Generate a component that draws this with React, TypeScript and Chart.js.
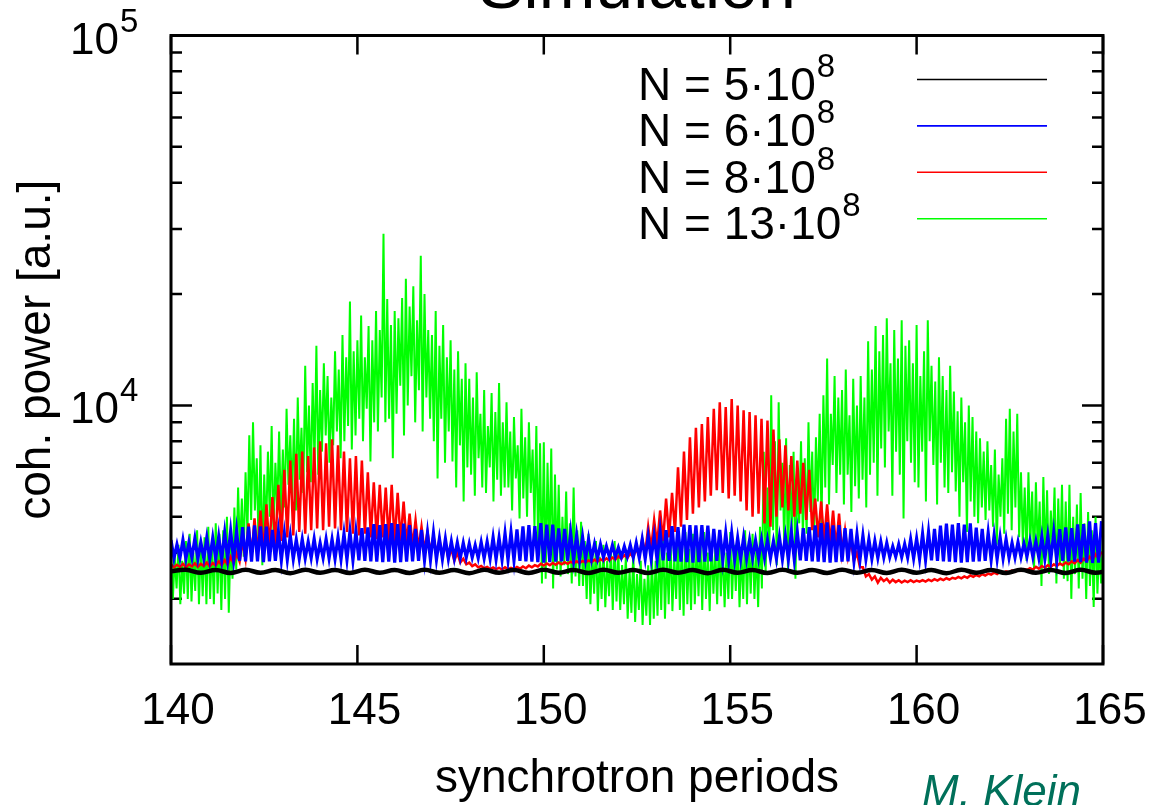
import React, { useEffect, useRef } from "react";
import { Chart, registerables } from "chart.js";

Chart.register(...registerables);

const FONT = '"Liberation Sans", Arial, Helvetica, sans-serif';

// ---- axes ----
const X_START = 140;
const X_END = 165;
const X_TICKS = [140, 145, 150, 155, 160, 165];
const Y_MIN = 2000;
const Y_MAX = 100000;
const Y_MAJOR_TICKS = [10000, 100000];
const Y_MAJOR_BASE = ["10", "10"];
const Y_MAJOR_EXP = ["4", "5"];
const Y_MINOR_TICKS = [3000, 4000, 5000, 6000, 7000, 8000, 9000, 20000, 30000, 40000, 50000, 60000, 70000, 80000, 90000];

// ---- series ----
const SERIES_LABELS = ["N = 5·10", "N = 6·10", "N = 8·10", "N = 13·10"];
const SERIES_EXP = "8";
const SERIES_COLORS = ["#000000", "#0000ff", "#ff0000", "#00ff00"];

// N = 5e8 : sampled every 0.4 periods
const BLACK_STEP = 0.4;
const BLACK = [
  3560, 3595, 3530, 3590, 3525, 3595, 3530, 3590, 3520, 3595, 3530, 3590, 3525, 3595, 3530, 3590,
  3525, 3595, 3530, 3590, 3520, 3595, 3530, 3590, 3525, 3595, 3530, 3590, 3525, 3595, 3530, 3590,
  3525, 3595, 3530, 3590, 3520, 3595, 3530, 3590, 3525, 3595, 3530, 3590, 3525, 3595, 3530, 3590,
  3525, 3595, 3530, 3590, 3520, 3595, 3530, 3590, 3525, 3595, 3530, 3590, 3525, 3595, 3530, 3590,
];

// N = 6e8 : maxima and minima of the fast oscillation, every 0.08 periods alternately
const BLUE_STEP = 0.08;
const BLUE_PEAKS = [
  4330, 4210, 4330, 4260, 4370, 4270, 4390, 4390, 4420, 4530,
  4580, 4580, 4690, 4700, 4740, 4710, 4700, 4610, 4560, 4510,
  4450, 4340, 4350, 4280, 4360, 4250, 4350, 4350, 4400, 4500,
  4560, 4560, 4660, 4680, 4780, 4750, 4780, 4810, 4780, 4790,
  4750, 4640, 4610, 4520, 4520, 4370, 4360, 4290, 4260, 4250,
  4230, 4190, 4270, 4280, 4400, 4390, 4510, 4540, 4620, 4710,
  4750, 4720, 4810, 4760, 4760, 4650, 4640, 4530, 4460, 4410,
  4350, 4220, 4210, 4160, 4190, 4130, 4160, 4190, 4250, 4350,
  4430, 4440, 4570, 4600, 4720, 4690, 4760, 4750, 4740, 4750,
  4730, 4640, 4610, 4520, 4520, 4390, 4400, 4330, 4320, 4330,
  4330, 4300, 4410, 4430, 4560, 4550, 4660, 4690, 4740, 4810,
  4830, 4740, 4750, 4660, 4640, 4490, 4450, 4350, 4300, 4280,
  4250, 4160, 4210, 4220, 4350, 4370, 4500, 4550, 4640, 4730,
  4790, 4760, 4810, 4760, 4800, 4670, 4640, 4530, 4460, 4410,
  4350, 4250, 4270, 4230, 4300, 4290, 4420, 4450, 4540, 4630,
  4680, 4660, 4770, 4780, 4860, 4810, 4870,
];
const BLUE_TROUGHS = [
  3860, 3870, 3850, 3880, 3850, 3860, 3840, 3850, 3830, 3840,
  3820, 3800, 3790, 3780, 3790, 3770, 3790, 3800, 3810, 3830,
  3840, 3850, 3860, 3870, 3850, 3870, 3860, 3850, 3840, 3830,
  3820, 3810, 3800, 3790, 3780, 3770, 3780, 3760, 3770, 3780,
  3790, 3800, 3810, 3820, 3830, 3840, 3850, 3860, 3870, 3880,
  3880, 3870, 3860, 3850, 3840, 3830, 3820, 3810, 3800, 3790,
  3780, 3770, 3760, 3770, 3780, 3790, 3800, 3810, 3830, 3840,
  3850, 3860, 3880, 3890, 3900, 3890, 3900, 3880, 3870, 3850,
  3840, 3820, 3810, 3800, 3790, 3780, 3770, 3760, 3770, 3780,
  3790, 3800, 3810, 3820, 3830, 3840, 3850, 3860, 3860, 3870,
  3860, 3850, 3840, 3830, 3820, 3810, 3800, 3790, 3780, 3770,
  3760, 3770, 3780, 3790, 3800, 3820, 3840, 3850, 3870, 3880,
  3890, 3900, 3890, 3880, 3860, 3840, 3820, 3810, 3800, 3790,
  3780, 3770, 3760, 3770, 3780, 3790, 3800, 3820, 3840, 3860,
  3870, 3880, 3890, 3900, 3890, 3870, 3850, 3830, 3810, 3800,
  3790, 3780, 3770, 3760, 3750, 3760,
];

// N = 8e8
const RED_STEP = 0.08;
const RED_PEAKS = [
  3720, 3710, 3730, 3720, 3740, 3730, 3760, 3750, 3790, 3820,
  3900, 3980, 4300, 4800, 4950, 5200, 5400, 5650, 6100, 6700,
  7100, 7400, 7500, 7300, 7700, 8000, 7900, 8100, 7800, 7500,
  7200, 7300, 7100, 6600, 6200, 6100, 6000, 6100, 5800, 5500,
  5100, 4900, 4700, 4550, 4450, 4350, 4250, 4100, 4000, 3850,
  3760, 3720, 3680, 3660, 3650, 3640, 3650, 3640, 3660, 3670,
  3690, 3700, 3730, 3740, 3750, 3760, 3770, 3780, 3790, 3800,
  3810, 3830, 3840, 3860, 3880, 3910, 3940, 3980, 4100, 4350,
  4700, 4900, 5200, 5600, 5800, 6800, 7500, 8200, 8700, 8900,
  9300, 9800, 10200, 9900, 10400, 10000, 9700, 9600, 9400, 9200,
  9100, 8600, 8100, 7800, 7300, 7100, 7000, 6700, 5600, 5500,
  5400, 5200, 5100, 4600, 4300, 4000, 3650, 3500, 3450, 3420,
  3400, 3380, 3370, 3360, 3370, 3360, 3370, 3380, 3390, 3400,
  3410, 3420, 3440, 3450, 3470, 3480, 3500, 3510, 3530, 3550,
  3560, 3580, 3600, 3610, 3630, 3660, 3680, 3700, 3720, 3740,
  3760, 3790, 3820, 3850, 3900, 3960, 4020,
];
const RED_TROUGHS = [
  3650, 3660, 3650, 3670, 3660, 3680, 3670, 3690, 3700, 3710,
  3740, 3780, 3850, 3900, 3950, 4000, 4100, 4200, 4300, 4400,
  4450, 4550, 4500, 4600, 4650, 4600, 4700, 4650, 4600, 4550,
  4500, 4450, 4500, 4400, 4350, 4400, 4300, 4250, 4300, 4200,
  4150, 4100, 4050, 4000, 3950, 3900, 3850, 3800, 3760, 3720,
  3680, 3650, 3630, 3610, 3610, 3600, 3610, 3610, 3620, 3630,
  3650, 3670, 3690, 3700, 3710, 3720, 3730, 3740, 3750, 3760,
  3770, 3780, 3800, 3810, 3830, 3850, 3870, 3890, 3920, 3980,
  4100, 4200, 4300, 4400, 4550, 4700, 4900, 5100, 5300, 5500,
  5700, 5900, 5800, 5600, 5700, 5500, 5200, 5000, 5100, 4800,
  4700, 5000, 5300, 5200, 5000, 5100, 4900, 4600, 4400, 4300,
  4200, 4100, 4000, 3900, 3800, 3650, 3450, 3380, 3320, 3350,
  3320, 3330, 3320, 3330, 3330, 3340, 3340, 3350, 3360, 3370,
  3380, 3400, 3410, 3420, 3440, 3450, 3470, 3490, 3500, 3520,
  3540, 3550, 3570, 3590, 3600, 3620, 3640, 3660, 3680, 3700,
  3720, 3740, 3760, 3790, 3820, 3860,
];

// N = 13e8 : highs and lows every 0.05 periods alternately
const GREEN_STEP = 0.05;
const GREEN_HIGHS = [
  4100, 3900, 4200, 3800, 4300, 4500, 4000, 4600, 4200, 4400,
  4700, 4300, 4800, 4500, 4600, 5000, 4400, 5300, 6000, 5600,
  6600, 8300, 9000, 7200, 7800, 6500, 7500, 8800, 7000, 8500,
  7600, 9800, 8300, 9200, 10500, 8700, 12800, 10000, 11500, 14500,
  11000, 13000, 12000, 10500, 14000, 12500, 15500, 13500, 19100, 14000,
  15000, 17500, 13500, 16400, 15000, 18000, 16000, 29100, 19400, 16500,
  18000, 17200, 19500, 22000, 18500, 21000, 17000, 25400, 20000, 16000,
  15500, 18000, 14500, 16500, 13500, 15000, 12500, 14000, 11800, 13000,
  11800, 10500, 12300, 9500, 11000, 8800, 10800, 9600, 11500, 9000,
  10200, 8500, 9300, 7800, 9800, 8200, 9000, 7600, 8800, 7900,
  7950, 7000, 7650, 6500, 6100, 5000, 5850, 4800, 6000, 4600,
  4850, 4300, 4500, 4000, 4300, 3900, 4200, 3800, 4100, 4300,
  4000, 3700, 3900, 3600, 4000, 3500, 3800, 3400, 3700, 3900,
  3800, 4200, 4550, 4000, 4400, 3900, 4500, 4200, 4550, 4100,
  4500, 4200, 4400, 4550, 4000, 4300, 4100, 4450, 4200, 4000,
  4550, 4200, 4400, 4000, 4600, 4300, 4500, 4100, 4700, 7500,
  6000, 10650, 8000, 10200, 7000, 8150, 6900, 7500, 6200, 8000,
  7200, 9000, 7500, 8200, 9500, 10650, 13400, 9500, 12000, 10500,
  11000, 12500, 9400, 11800, 10000, 12000, 10500, 14900, 12500, 16400,
  14000, 15500, 17200, 13000, 16000, 13400, 17000, 14500, 15000, 13000,
  16500, 12000, 14000, 17000, 12800, 11600, 13500, 12000, 11000, 12800,
  10900, 9650, 10500, 9000, 10000, 9300, 8500, 8150, 7500, 8000,
  6900, 7600, 6500, 7200, 9200, 9800, 8500, 9500, 6600, 6000,
  6600, 5850, 6200, 5500, 6400, 5900, 5200, 6000, 5600, 6100,
  5500, 6100, 5000, 5400, 5800, 4800, 5150, 4600, 5000, 4200,
  4500,
];
const GREEN_LOWS = [
  3000, 3200, 2900, 3100, 3000, 2950, 3150, 2900, 3050, 2900,
  3000, 2900, 3100, 2800, 3000, 2750, 3400, 3600, 4000, 3900,
  4500, 4900, 5200, 4100, 3700, 4500, 5000, 4400, 5200, 5000,
  5300, 6100, 5600, 5200, 6300, 5800, 6600, 6200, 7000, 6500,
  7500, 8300, 7000, 7800, 8500, 7200, 8000, 8800, 7600, 8300,
  9200, 8000, 9800, 7050, 9000, 8500, 10500, 9000, 9200, 7200,
  9500, 11300, 8300, 10000, 12000, 9000, 11000, 8500, 10500, 9200,
  8000, 6350, 9200, 7000, 8500, 7050, 6000, 7800, 5500, 6800,
  6500, 5700, 7200, 6000, 5800, 6800, 5500, 6300, 5700, 6000,
  6000, 5200, 6350, 4950, 5600, 5000, 5800, 4700, 4000, 3300,
  3400, 3900, 3200, 3600, 3450, 3700, 3500, 3300, 3450, 3250,
  3250, 3000, 2900, 3100, 2780, 3000, 2850, 3050, 2800, 2950,
  2800, 2900, 2650, 2750, 2600, 2800, 2550, 2700, 2550, 2650,
  2700, 2800, 2650, 2900, 2780, 3000, 2800, 2700, 2900, 2800,
  2900, 3050, 2800, 3000, 2780, 3100, 2900, 3050, 2850, 3000,
  3000, 3150, 2850, 3000, 2900, 3100, 3000, 2850, 3200, 3500,
  4000, 4600, 3700, 5200, 4200, 3600, 4500, 3400, 4800, 4400,
  4500, 5150, 4300, 5500, 4800, 6000, 5400, 6900, 5800, 6500,
  5400, 6500, 5150, 6050, 5600, 6300, 5300, 6500, 7000, 5700,
  7650, 6800, 8500, 5700, 7500, 6500, 4950, 8000, 7000, 6200,
  6000, 7500, 5500, 8000, 6900, 5400, 7000, 6000, 5800, 6600,
  5850, 5000, 6200, 4550, 5500, 5000, 4800, 5300, 4900, 5200,
  4700, 4200, 5000, 4500, 5100, 4600, 5300, 4400, 4200, 3800,
  4200, 3600, 4000, 3250, 3800, 3500, 4100, 3300, 3700, 3400,
  3350, 3000, 3500, 3200, 3400, 3000, 3250, 2850, 3100, 3300,
];

function interleave(a: number[], b: number[]): number[] {
  const out: number[] = [];
  for (let i = 0; i < a.length; i++) {
    out.push(a[i]);
    if (i < b.length) out.push(b[i]);
  }
  return out;
}

function toPoints(values: number[], step: number) {
  return values.map((y, i) => ({ x: X_START + i * step, y }));
}

const decorPlugin = {
  id: "decor",
  beforeDatasetsDraw(chart: any) {
    const { ctx, chartArea } = chart;
    const { left, right, top, bottom } = chartArea;
    const xs = chart.scales.x;
    const ys = chart.scales.y;
    ctx.save();
    ctx.strokeStyle = "#000";
    ctx.lineWidth = 2.5;
    ctx.beginPath();
    for (const v of X_TICKS) {
      const px = xs.getPixelForValue(v);
      ctx.moveTo(px, bottom);
      ctx.lineTo(px, bottom - 19);
      ctx.moveTo(px, top);
      ctx.lineTo(px, top + 19);
    }
    for (const v of Y_MAJOR_TICKS) {
      const py = ys.getPixelForValue(v);
      ctx.moveTo(left, py);
      ctx.lineTo(left + 21, py);
      ctx.moveTo(right, py);
      ctx.lineTo(right - 21, py);
    }
    for (const v of Y_MINOR_TICKS) {
      const py = ys.getPixelForValue(v);
      ctx.moveTo(left, py);
      ctx.lineTo(left + 11, py);
      ctx.moveTo(right, py);
      ctx.lineTo(right - 11, py);
    }
    ctx.stroke();
    ctx.restore();
  },
  afterDatasetsDraw(chart: any) {
    const { ctx, chartArea } = chart;
    const { left, right, top, bottom } = chartArea;
    const ys = chart.scales.y;
    ctx.save();
    // frame
    ctx.strokeStyle = "#000";
    ctx.lineWidth = 3;
    ctx.strokeRect(left, top, right - left, bottom - top);

    // y tick labels 10^n
    ctx.fillStyle = "#000";
    ctx.textAlign = "left";
    ctx.textBaseline = "alphabetic";
    Y_MAJOR_TICKS.forEach((v, i) => {
      const py = ys.getPixelForValue(v);
      const base = py + 18;
      ctx.font = `44px ${FONT}`;
      const x0 = left - 101;
      ctx.fillText(Y_MAJOR_BASE[i], x0, base);
      const w = ctx.measureText(Y_MAJOR_BASE[i]).width;
      ctx.font = `33px ${FONT}`;
      ctx.fillText(Y_MAJOR_EXP[i], x0 + w + 1, base - 22);
    });

    // legend
    SERIES_LABELS.forEach((label, i) => {
      const by = 100 + i * 46.4;
      const ly = by - 20.5;
      ctx.fillStyle = "#000";
      ctx.font = `46px ${FONT}`;
      ctx.fillText(label, 638, by);
      const w = ctx.measureText(label).width;
      ctx.font = `33px ${FONT}`;
      ctx.fillText(SERIES_EXP, 638 + w + 1, by - 23);
      ctx.strokeStyle = SERIES_COLORS[i];
      ctx.lineWidth = 1.6;
      ctx.beginPath();
      ctx.moveTo(917, ly);
      ctx.lineTo(1047, ly);
      ctx.stroke();
    });

    // signature
    ctx.fillStyle = "#00705a";
    ctx.font = `italic 44px ${FONT}`;
    ctx.fillText("M. Klein", 922, 806);
    ctx.restore();
  },
};

export default function App() {
  const ref = useRef<HTMLCanvasElement | null>(null);

  useEffect(() => {
    if (!ref.current) return;
    const widths = [4.5, 3.2, 2.5, 2];
    const seriesValues = [
      { vals: BLACK, step: BLACK_STEP },
      { vals: interleave(BLUE_PEAKS, BLUE_TROUGHS), step: BLUE_STEP },
      { vals: interleave(RED_PEAKS, RED_TROUGHS), step: RED_STEP },
      { vals: interleave(GREEN_HIGHS, GREEN_LOWS), step: GREEN_STEP },
    ];
    const chart = new Chart(ref.current, {
      type: "line",
      data: {
        datasets: seriesValues.map((s, i) => ({
          label: SERIES_LABELS[i] + "⁸",
          data: toPoints(s.vals, s.step),
          borderColor: SERIES_COLORS[i],
          backgroundColor: SERIES_COLORS[i],
          borderWidth: widths[i],
          pointRadius: 0,
          tension: i === 0 ? 0.4 : 0,
          fill: false,
        })),
      },
      options: {
        animation: false,
        responsive: true,
        maintainAspectRatio: false,
        devicePixelRatio: 1,
        events: [],
        layout: { padding: { top: 0, right: 51, bottom: 0, left: 0 } },
        plugins: {
          legend: { display: false },
          tooltip: { enabled: false },
          title: {
            display: true,
            text: "Simulation",
            color: "#000",
            fullSize: false,
            font: { family: FONT, size: 68, weight: "normal", lineHeight: 1 },
            padding: { top: -45, bottom: 12.5 },
          },
        },
        scales: {
          x: {
            type: "linear",
            min: X_START,
            max: X_END,
            grid: { display: false, drawTicks: false },
            border: { display: false },
            afterFit: (scale: any) => {
              scale.height = 141;
              scale.paddingLeft = 0;
              scale.paddingRight = 0;
            },
            afterBuildTicks: (scale: any) => {
              scale.ticks = X_TICKS.map((v) => ({ value: v }));
            },
            ticks: {
              color: "#000",
              font: { family: FONT, size: 44, lineHeight: 1 },
              padding: 26,
              labelOffset: 7,
              autoSkip: false,
              maxRotation: 0,
              minRotation: 0,
            },
            title: {
              display: true,
              text: "synchrotron periods",
              color: "#000",
              font: { family: FONT, size: 46, lineHeight: 1 },
              padding: { top: 0, bottom: 3 },
            },
          },
          y: {
            type: "logarithmic",
            min: Y_MIN,
            max: Y_MAX,
            grid: { display: false, drawTicks: false },
            border: { display: false },
            ticks: { display: false },
            afterFit: (scale: any) => {
              scale.width = 171;
            },
            title: {
              display: true,
              text: "coh. power [a.u.]",
              color: "#000",
              font: { family: FONT, size: 46, lineHeight: 1 },
              padding: { top: 14, bottom: 0 },
            },
          },
        },
      },
      plugins: [decorPlugin],
    } as any);
    return () => chart.destroy();
  }, []);

  return (
    <div style={{ position: "fixed", left: 0, top: 0, width: 1154, height: 805, background: "#fff" }}>
      <canvas ref={ref} />
    </div>
  );
}
